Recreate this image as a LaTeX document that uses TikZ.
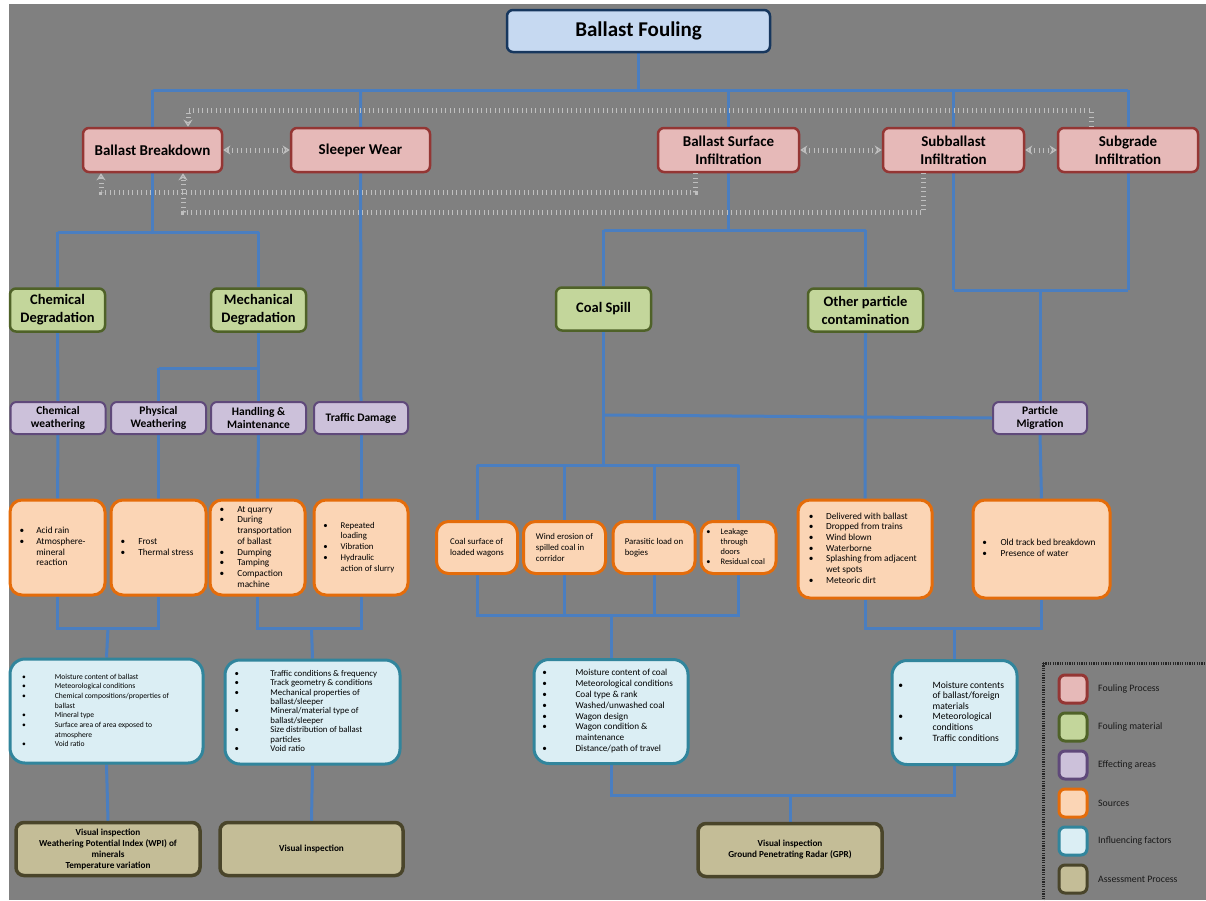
\documentclass[tikz,border=0pt]{standalone}
\usepackage{fontspec}
\setmainfont{Carlito}
\usetikzlibrary{arrows.meta,backgrounds}
\definecolor{bgc}{HTML}{808080}
\definecolor{tif}{HTML}{C6D9F1}\definecolor{tid}{HTML}{17375E}
\definecolor{fpf}{HTML}{E6B9B8}\definecolor{fpd}{HTML}{943634}
\definecolor{fmf}{HTML}{C3D69B}\definecolor{fmd}{HTML}{4F6228}
\definecolor{eaf}{HTML}{CCC1DA}\definecolor{ead}{HTML}{5F497A}
\definecolor{srf}{HTML}{FBD5B5}\definecolor{srd}{HTML}{E46C0A}
\definecolor{iff}{HTML}{DBEEF4}\definecolor{ifd}{HTML}{31859C}
\definecolor{asf}{HTML}{C4BD97}\definecolor{asd}{HTML}{4A452A}
\definecolor{lnc}{HTML}{4A7EC0}
\definecolor{dtc}{HTML}{BFBFBF}
\newcommand{\blst}[3]{\begin{tabular}{@{}l@{\hspace{#1}}p{#2}@{}}#3\end{tabular}}
\newcommand{\bt}{\textbullet}
\begin{document}
\begin{tikzpicture}[x=1pt,y=-1pt,
  box/.style={rounded corners=6pt, line width=2.5pt, align=center, inner sep=2pt},
  ttl/.style={box, draw=tid, fill=tif, minimum width=263pt, minimum height=42pt, font=\fontsize{21}{24}\selectfont\bfseries},
  fproc/.style={box, draw=fpd, fill=fpf, minimum height=44pt, font=\fontsize{15}{18}\selectfont\bfseries},
  fmat/.style={box, draw=fmd, fill=fmf, minimum width=95pt, minimum height=43pt, font=\fontsize{14.5}{18}\selectfont\bfseries},
  area/.style={box, draw=ead, fill=eaf, minimum width=95pt, minimum height=32pt, line width=2pt, font=\fontsize{11.5}{13.5}\selectfont\bfseries},
  src/.style={box, draw=srd, fill=srf, rounded corners=12pt, line width=3pt, font=\fontsize{9.3}{10.7}\selectfont},
  infl/.style={box, draw=ifd, fill=iff, rounded corners=15pt, line width=3pt, minimum height=104pt},
  asmt/.style={box, draw=asd, fill=asf, rounded corners=8pt, line width=3.5pt, minimum height=53pt, font=\fontsize{9.2}{11}\selectfont\bfseries},
  conn/.style={draw=lnc, line width=3pt},
  dots/.style={draw=dtc, line width=5pt, dash pattern=on 1pt off 3.5pt},
  dtip/.style={-{Stealth[open,length=7pt,width=9pt,line width=1.2pt,color=dtc]}},
  ddtip/.style={{Stealth[open,length=7pt,width=9pt,line width=1.2pt,color=dtc]}-{Stealth[open,length=7pt,width=9pt,line width=1.2pt,color=dtc]}},
  lgsq/.style={rounded corners=6pt, line width=3pt, minimum width=28pt, minimum height=28pt},
  lgtx/.style={anchor=west, font=\fontsize{9.8}{11}\selectfont, text=black!90, inner sep=0pt}
]
\useasboundingbox (0,0) rectangle (1206,900);

% ---------- fouling processes ----------
\node[ttl] (bf) at (638.5,31) {Ballast Fouling};
\node[fproc, minimum width=139pt] (bb) at (152.5,150) {Ballast Breakdown};
\node[fproc, minimum width=139pt] (sw) at (360.5,150) {Sleeper Wear};
\node[fproc, minimum width=141pt] (bsi) at (728.5,150) {Ballast Surface\\Infiltration};
\node[fproc, minimum width=141pt] (sbi) at (953.5,150) {Subballast\\Infiltration};
\node[fproc, minimum width=140pt] (sgi) at (1128,150) {Subgrade\\Infiltration};

% ---------- fouling material ----------
\node[fmat] (cd) at (57.5,310) {Chemical\\Degradation};
\node[fmat] (md) at (258.5,310) {Mechanical\\Degradation};
\node[fmat] (cs) at (603.5,309) {Coal Spill};
\node[fmat, minimum width=115pt] (op) at (865.5,310) {Other particle\\contamination};

% ---------- effecting areas ----------
\node[area] (cw) at (58,418) {Chemical\\weathering};
\node[area] (pw) at (158.5,418) {Physical\\Weathering};
\node[area] (hm) at (258.5,418) {Handling \&\\Maintenance};
\node[area, minimum width=94pt] (td) at (361,418) {Traffic Damage};
\node[area, minimum width=94pt] (pm) at (1040,418) {Particle\\Migration};

% ---------- sources ----------
\node[src, minimum width=95pt, minimum height=95pt] (s1) at (57.5,547.5)
  {\blst{12pt}{59pt}{\bt & Acid rain\\ \bt & Atmosphere-\\ & mineral\\ & reaction}};
\node[src, minimum width=95pt, minimum height=95pt] (s2) at (158.5,547.5)
  {\blst{13pt}{58pt}{\bt & Frost\\ \bt & Thermal stress}};
\node[src, minimum width=95pt, minimum height=95pt] (s3) at (257.5,547.5)
  {\blst{13pt}{58pt}{\bt & At quarry\\ \bt & During\\ & transportation\\ & of ballast\\ \bt & Dumping\\ \bt & Tamping\\ \bt & Compaction\\ & machine}};
\node[src, minimum width=94pt, minimum height=95pt, font=\fontsize{8.8}{10.7}\selectfont] (s4) at (361,547.5)
  {\blst{13pt}{58pt}{\bt & Repeated\\ & loading\\ \bt & Vibration\\ \bt & Hydraulic\\ & action of slurry}};
\node[src, minimum width=81pt, minimum height=52pt, font=\fontsize{8.8}{10.8}\selectfont, align=left] (c1) at (477,547.5)
  {Coal surface of\\loaded wagons};
\node[src, minimum width=82pt, minimum height=52pt, font=\fontsize{8.8}{10.8}\selectfont, align=left] (c2) at (564.5,547.5)
  {Wind erosion of\\spilled coal in\\corridor};
\node[src, minimum width=82pt, minimum height=52pt, font=\fontsize{8.8}{10.8}\selectfont, align=left] (c3) at (654,547.5)
  {Parasitic load on\\bogies};
\node[src, minimum width=75pt, minimum height=52pt, font=\fontsize{8.4}{10.2}\selectfont] (c4) at (738.5,547.5)
  {\blst{10pt}{50pt}{\bt & Leakage\\ & through\\ & doors\\ \bt & Residual coal}};
\node[src, minimum width=134pt, minimum height=98pt] (o1) at (865,549)
  {\blst{12.5pt}{95pt}{\bt & Delivered with ballast\\ \bt & Dropped from trains\\ \bt & Wind blown\\ \bt & Waterborne\\ \bt & Splashing from adjacent\\ & wet spots\\ \bt & Meteoric dirt}};
\node[src, minimum width=137pt, minimum height=98pt] (o2) at (1041.5,549)
  {\blst{13.5pt}{100pt}{\bt & Old track bed breakdown\\ \bt & Presence of water}};

% ---------- influencing factors ----------
\node[infl, minimum width=193pt, font=\fontsize{7.6}{9.7}\selectfont] (i1) at (106.5,711)
  {\blst{29pt}{136pt}{\bt & Moisture content of ballast\\ \bt & Meteorological conditions\\ \bt & Chemical compositions/properties of\\ & ballast\\ \bt & Mineral type\\ \bt & Surface area of area exposed to\\ & atmosphere\\ \bt & Void ratio}};
\node[infl, minimum width=175pt, font=\fontsize{8.8}{9.4}\selectfont] (i2) at (312.5,712)
  {\blst{31.5pt}{120pt}{\bt & Traffic conditions \& frequency\\ \bt & Track geometry \& conditions\\ \bt & Mechanical properties of\\ & ballast/sleeper\\ \bt & Mineral/material type of\\ & ballast/sleeper\\ \bt & Size distribution of ballast\\ & particles\\ \bt & Void ratio}};
\node[infl, minimum width=154pt, font=\fontsize{9.2}{10.8}\selectfont] (i3) at (611,711.5)
  {\blst{28.5pt}{104pt}{\bt & Moisture content of coal\\ \bt & Meteorological conditions\\ \bt & Coal type \& rank\\ \bt & Washed/unwashed coal\\ \bt & Wagon design\\ \bt & Wagon condition \&\\ & maintenance\\ \bt & Distance/path of travel}};
\node[infl, minimum width=125pt, font=\fontsize{9.6}{10.6}\selectfont] (i4) at (954.5,712.5)
  {\blst{29.5pt}{78pt}{\bt & Moisture contents\\ & of ballast/foreign\\ & materials\\ \bt & Meteorological\\ & conditions\\ \bt & Traffic conditions}};

% ---------- assessment ----------
\node[asmt, minimum width=184pt] (a1) at (108,849) {Visual inspection\\Weathering Potential Index (WPI) of\\minerals\\Temperature variation};
\node[asmt, minimum width=183pt] (a2) at (311.5,849) {Visual inspection};
\node[asmt, minimum width=184pt] (a3) at (790,850) {Visual inspection\\Ground Penetrating Radar (GPR)};

% ---------- legend ----------
\draw[black!85, line width=3pt, dash pattern=on 1.2pt off 1.2pt] (1043,663) -- (1212,663) (1043,663) -- (1043,905);
\node[lgsq, draw=fpd, fill=fpf] (lg1) at (1073,689) {};
\node[lgsq, draw=fmd, fill=fmf] (lg2) at (1073,727) {};
\node[lgsq, draw=ead, fill=eaf] (lg3) at (1073,765) {};
\node[lgsq, draw=srd, fill=srf] (lg4) at (1073,803) {};
\node[lgsq, draw=ifd, fill=iff] (lg5) at (1073,841) {};
\node[lgsq, draw=asd, fill=asf] (lg6) at (1073,879) {};
\node[lgtx] at (1098,689) {Fouling Process};
\node[lgtx] at (1098,727) {Fouling material};
\node[lgtx] at (1098,765) {Effecting areas};
\node[lgtx] at (1098,803) {Sources};
\node[lgtx] at (1098,841) {Influencing factors};
\node[lgtx] at (1098,879) {Assessment Process};

% ---------- coordinates ----------
\coordinate (top) at (638.5,90);
\coordinate (jb) at (152.5,232);
\coordinate (ji) at (728.5,230);
\coordinate (js) at (1040,290);
\coordinate (jm) at (258.5,368);
\coordinate (jc) at (603.5,415);
\coordinate (jk) at (603.5,465);
\coordinate (ja) at (108,628);
\coordinate (jb2) at (311.5,628);
\coordinate (jcs) at (611,615);
\coordinate (jo) at (954.5,628);
\coordinate (jas) at (790,795);
\coordinate (t1) at (1091,110);
\coordinate (t2) at (188,110);
\coordinate (m1) at (695,192);
\coordinate (m2) at (101,192);
\coordinate (l1) at (923,212);
\coordinate (l2) at (183,212);

\begin{pgfonlayer}{background}
\fill[bgc] (9,4) rectangle (1206,900);
% top level
\draw[conn] (bf.south) -- (top);
\draw[conn] (bb.north |- top) -- (sgi.north |- top);
\draw[conn] (bb.north |- top) -- (bb.south) -- (jb);
\draw[conn] (sw.north |- top) -- (td.north);
\draw[conn] (bsi.north |- top) -- (bsi.south) -- (ji);
\draw[conn] (sbi.north |- top) -- (sbi.south) -- (sbi.south |- js);
\draw[conn] (sgi.north |- top) -- (sgi.south) -- (sgi.south |- js);
\draw[conn] (sbi.south |- js) -- (sgi.south |- js);
\draw[conn] (js) -- (pm.north);
% fouling material
\draw[conn] (cd.north |- jb) -- (md.north |- jb);
\draw[conn] (cd.north |- jb) -- (cd.north);
\draw[conn] (md.north |- jb) -- (md.north);
\draw[conn] (cs.north |- ji) -- (op.north |- ji);
\draw[conn] (cs.north |- ji) -- (cs.north);
\draw[conn] (op.north |- ji) -- (op.north);
% effecting areas
\draw[conn] (cd.south) -- (cw.north);
\draw[conn] (md.south) -- (jm) -- (hm.north);
\draw[conn] (pw.north |- jm) -- (jm);
\draw[conn] (pw.north |- jm) -- (pw.north);
\draw[conn] (cs.south) -- (jk);
\draw[conn] (jc) -- (pm.west);
\draw[conn] (op.south) -- (o1.north);
% sources
\draw[conn] (cw.south) -- (s1.north);
\draw[conn] (pw.south) -- (s2.north);
\draw[conn] (hm.south) -- (s3.north);
\draw[conn] (td.south) -- (s4.north);
\draw[conn] (pm.south) -- (o2.north);
\draw[conn] (c1.north |- jk) -- (c4.north |- jk);
\draw[conn] (c1.north |- jk) -- (c1.north);
\draw[conn] (c2.north |- jk) -- (c2.north);
\draw[conn] (c3.north |- jk) -- (c3.north);
\draw[conn] (c4.north |- jk) -- (c4.north);
% influencing
\draw[conn] (s1.south) -- (s1.south |- ja) -- (s2.south |- ja) -- (s2.south);
\draw[conn] (ja) -- (i1.north);
\draw[conn] (s3.south) -- (s3.south |- jb2) -- (s4.south |- jb2) -- (s4.south);
\draw[conn] (jb2) -- (i2.north);
\draw[conn] (c1.south) -- (c1.south |- jcs) -- (c4.south |- jcs) -- (c4.south);
\draw[conn] (c2.south) -- (c2.south |- jcs);
\draw[conn] (c3.south) -- (c3.south |- jcs);
\draw[conn] (jcs) -- (i3.north);
\draw[conn] (o1.south) -- (o1.south |- jo) -- (o2.south |- jo) -- (o2.south);
\draw[conn] (jo) -- (i4.north);
% assessment
\draw[conn] (i1.south) -- (a1.north);
\draw[conn] (i2.south) -- (a2.north);
\draw[conn] (i3.south) -- (i3.south |- jas) -- (i4.south |- jas) -- (i4.south);
\draw[conn] (jas) -- (a3.north);
\end{pgfonlayer}

% ---------- dotted interaction arrows ----------
\draw[dots, ddtip] (bb.east) -- (sw.west);
\draw[dots, ddtip] (bsi.east) -- (sbi.west);
\draw[dots, ddtip] (sbi.east) -- (sgi.west);
\draw[dots, dtip] (sgi.north -| t1) -- (t1) -- (t2) -- (bb.north -| t2);
\draw[dots, dtip] (bsi.south -| m1) -- (m1) -- (m2) -- (bb.south -| m2);
\draw[dots, dtip] (sbi.south -| l1) -- (l1) -- (l2) -- (bb.south -| l2);
\end{tikzpicture}
\end{document}
